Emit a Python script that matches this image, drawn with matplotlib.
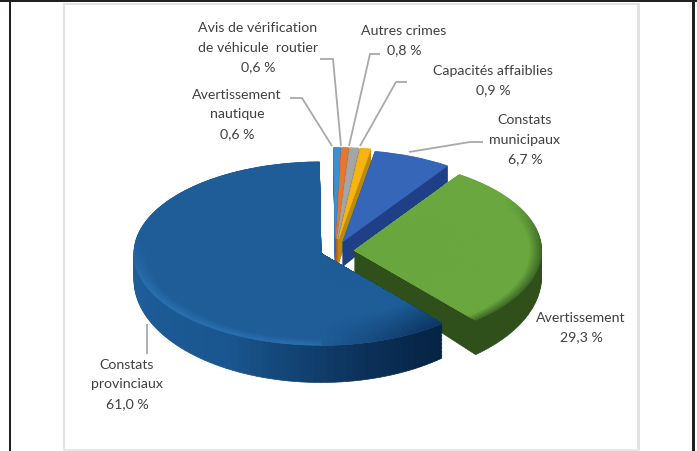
import matplotlib
matplotlib.use("Agg")
import matplotlib.pyplot as plt
from matplotlib.patches import Wedge, Rectangle
from matplotlib.transforms import Affine2D
from matplotlib.colors import to_rgb

# ---- data
LABELS = ["Avertissement\nnautique\n0,6 %", "Avis de vérification\nde véhicule  routier\n0,6 %",
          "Autres crimes\n0,8 %", "Capacités affaiblies\n0,9 %",
          "Constats\nmunicipaux\n6,7 %", "Avertissement\n29,3 %",
          "Constats\nprovinciaux\n61,0 %"]
VALUES = [0.6, 0.6, 0.8, 0.9, 6.7, 29.3, 61.0]

# ---- style
EXPLODE = [0.13, 0.13, 0.13, 0.13, 0.11, 0.105, 0.08]
FACE = ["#3D8FCF", "#E8772E", "#A5A5A5", "#F5B50E", "#3566B8", "#6AA83F", "#1F5D99"]
SIDE = ["#2A6DA6", "#B85A20", "#7E7E7E", "#BE8A0A", "#1F3F86", "#2F4F1B", "#1B5A94"]
W, H = 697, 452
CX, CY = 335, H - 252
R = 187
SQUASH = 0.49
DEPTH = 26
GROW = 11
TEXT_POS = [(237, 95), (258, 28), (404, 31), (493, 71), (525, 120), (581, 318), (127, 365)]
LEADERS = [
    [(290, 99), (302, 99), (332, 147)],
    [(320, 60), (333, 60), (341, 147)],
    [(380, 55), (370, 55), (349, 147)],
    [(407, 83), (396, 83), (360, 147)],
    [(483, 143), (470, 143), (409, 153)],
    [(147, 325), (147, 355)],
]

plt.rcParams["font.family"] = ["Lato", "DejaVu Sans"]
fig = plt.figure(figsize=(W / 100, H / 100), dpi=100)
ax = fig.add_axes([0, 0, 1, 1])

wedges, _ = ax.pie(VALUES, explode=[e * R for e in EXPLODE], startangle=90.5, counterclock=False,
                   radius=R, center=(CX, CY))
geom = [(w.center, w.theta1, w.theta2) for w in wedges]
for w in wedges:
    w.set_visible(False)
ax.set_aspect("auto")
ax.set_xlim(0, W)
ax.set_ylim(0, H)
ax.axis("off")


def mix(a, b, t):
    a, b = to_rgb(a), to_rgb(b)
    t = max(0, min(1, t))
    return tuple(x + (y - x) * t for x, y in zip(a, b))


def big_side(angle):
    a = angle % 360
    if a < 240:
        return mix("#1E5F9C", "#1A5690", (a - 180) / 60)
    if a < 285:
        return mix("#1A5690", "#0B3058", (a - 240) / 45)
    return mix("#0B3058", "#04203F", (a - 285) / 30)


def big_rim(angle):
    a = angle % 360
    if a < 200:
        return mix(FACE[6], "#2A70AE", (a - 170) / 30)
    if a < 265:
        return "#2A70AE"
    return mix("#2A70AE", FACE[6], (a - 265) / 25)


def green_rim(angle):
    a = (angle + 180) % 360 - 180
    return mix("#3F6A27", FACE[5], (a - 5) / 30)


def draw(center, t1, t2, radius, dy, sy, colour, step=None):
    tr = (Affine2D().translate(0, -CY).scale(1, sy).translate(0, CY + dy) + ax.transData)
    n = 1 if step is None else max(1, int((t2 - t1) / step))
    for i in range(n):
        a = t1 + (t2 - t1) * i / n
        b = t1 + (t2 - t1) * (i + 1) / n
        c = colour((a + b) / 2) if callable(colour) else colour
        ax.add_patch(Wedge(center, radius, a, b, fc=c, ec=c, lw=0.5, transform=tr))


for idx in range(7):  # back to front: small slices, municipal, green, large blue
    center, t1, t2 = geom[idx]
    big = idx == 6
    for k in range(DEPTH, 0, -1):
        f = k / DEPTH
        sy = SQUASH * (1 + GROW / (R * SQUASH) * f)
        colour = big_side if big else SIDE[idx]
        draw(center, t1, t2, R, -DEPTH * f, sy, colour, 2 if big else None)
    if big:
        draw(center, t1, t2, R, 0, SQUASH, FACE[6])
        # soft light band along the front-left edge
        for j in range(0, 10):
            r = R - j * 1.5
            draw(center, t1, t2, r, 0, SQUASH,
                 lambda angle, j=j: mix(big_rim(angle), FACE[6], j / 9), 3)
        # the face darkens towards its right end
        for j in range(0, 26):
            r = R - j * 2.2
            draw(center, t2 - 40, t2, r, 0, SQUASH,
                 lambda angle, j=j: mix(mix("#0C3560", FACE[6], j / 25), FACE[6],
                                        ((t2 - angle) / 40) ** 1.2), 2)
    elif idx == 5:
        for j in range(0, 9):
            draw(center, t1, t2, R - j * 1.5, 0, SQUASH,
                 lambda angle, j=j: mix(green_rim(angle), FACE[5], j / 8), 3)
    else:
        draw(center, t1, t2, R, 0, SQUASH, FACE[idx])

# frames
for x0, y0, x1, y1, c in [
    (9, 0, 11, 452, "#231F20"), (0, 1, 697, 3, "#231F20"), (692, 0, 695, 452, "#231F20"),
    (63, 4, 65, 452, "#E2E2E2"), (63, 4, 640, 6, "#E2E2E2"),
    (637, 4, 640, 452, "#E2E2E2"), (63, 450, 640, 452, "#E8E8E8"),
]:
    ax.add_patch(Rectangle((x0, H - y1), x1 - x0, y1 - y0, fc=c, ec="none", zorder=1))

# leaders and labels
for pts in LEADERS:
    ax.plot([p[0] for p in pts], [H - p[1] for p in pts], color="#A9A9A9", lw=1.3,
            solid_joinstyle="miter", solid_capstyle="butt", zorder=3)
for label, (x, y) in zip(LABELS, TEXT_POS):
    for i, line in enumerate(label.split("\n")):
        ax.text(x, H - (y + i * 19.5), line, ha="center", va="center", fontsize=10.2,
                color="#404040", zorder=4)

fig.savefig("out.png", dpi=100)
